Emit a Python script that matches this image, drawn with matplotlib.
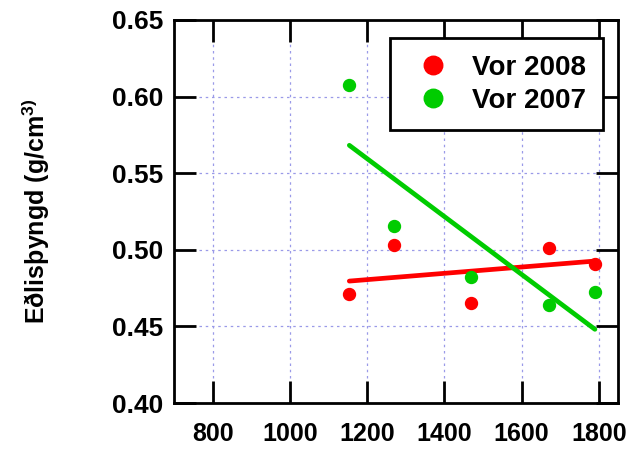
import numpy as np
import matplotlib
matplotlib.use('Agg')
import matplotlib.pyplot as plt

plt.rcParams['font.family'] = ['Liberation Sans', 'DejaVu Sans']
plt.rcParams['mathtext.fontset'] = 'custom'
plt.rcParams['mathtext.rm'] = 'Liberation Sans:bold'
plt.rcParams['mathtext.bf'] = 'Liberation Sans:bold'

# gögn lesin af myndinni
x_vor2008 = [1154, 1271, 1470, 1670, 1790]
y_vor2008 = [0.471, 0.503, 0.465, 0.501, 0.4905]
x_vor2007 = [1154, 1271, 1470, 1670, 1790]
y_vor2007 = [0.6076, 0.5155, 0.4824, 0.464, 0.4722]
x_ticks = [800, 1000, 1200, 1400, 1600, 1800]
y_ticks = [0.40, 0.45, 0.50, 0.55, 0.60, 0.65]

red = '#ff0000'
green = '#00cc00'

fig = plt.figure(figsize=(6.32, 4.5), dpi=100)
ax = fig.add_axes([0.2753, 0.1044, 0.7027, 0.8512])

ax.plot(x_vor2008, y_vor2008, 'o', color=red, ms=8.6, label='Vor 2008', zorder=3)
ax.plot(x_vor2007, y_vor2007, 'o', color=green, ms=8.6, label='Vor 2007', zorder=3)

# aðhvarfslínur
for xs, ys, c in [(x_vor2008, y_vor2008, red), (x_vor2007, y_vor2007, green)]:
    k, m = np.polyfit(xs, ys, 1)
    xx = np.array([min(xs), max(xs)])
    ax.plot(xx, k * xx + m, color=c, lw=3.4, solid_capstyle='round', zorder=2)

ax.set_xlim(700, 1850)
ax.set_ylim(0.40, 0.65)
ax.set_xticks(x_ticks)
ax.set_yticks(y_ticks)
ax.set_yticklabels(['%.2f' % v for v in y_ticks])
ax.grid(True, color='#9a9ae8', linestyle=(0, (2, 3)), linewidth=0.9)
ax.tick_params(direction='in', length=16, width=2, top=True, right=True)
ax.tick_params(axis='x', labelsize=18, pad=14)
ax.tick_params(axis='y', labelsize=19, pad=8)
for lab in ax.get_xticklabels() + ax.get_yticklabels():
    lab.set_fontweight('bold')
for s in ax.spines.values():
    s.set_linewidth(2)

ax.set_ylabel('Eðlisþyngd (g/cm$^{3)}$', fontsize=18, fontweight='bold')
ax.yaxis.set_label_coords(-0.275, 0.5)

leg = ax.legend(loc='upper right', bbox_to_anchor=(0.965, 0.953), borderaxespad=0,
                markerscale=1.55, handlelength=1.9, handletextpad=0.45,
                borderpad=0.6, labelspacing=0.25,
                fancybox=False, framealpha=1, edgecolor='black',
                prop={'weight': 'bold', 'size': 20})
leg.get_frame().set_linewidth(2)

plt.savefig('out.png', dpi=100)
